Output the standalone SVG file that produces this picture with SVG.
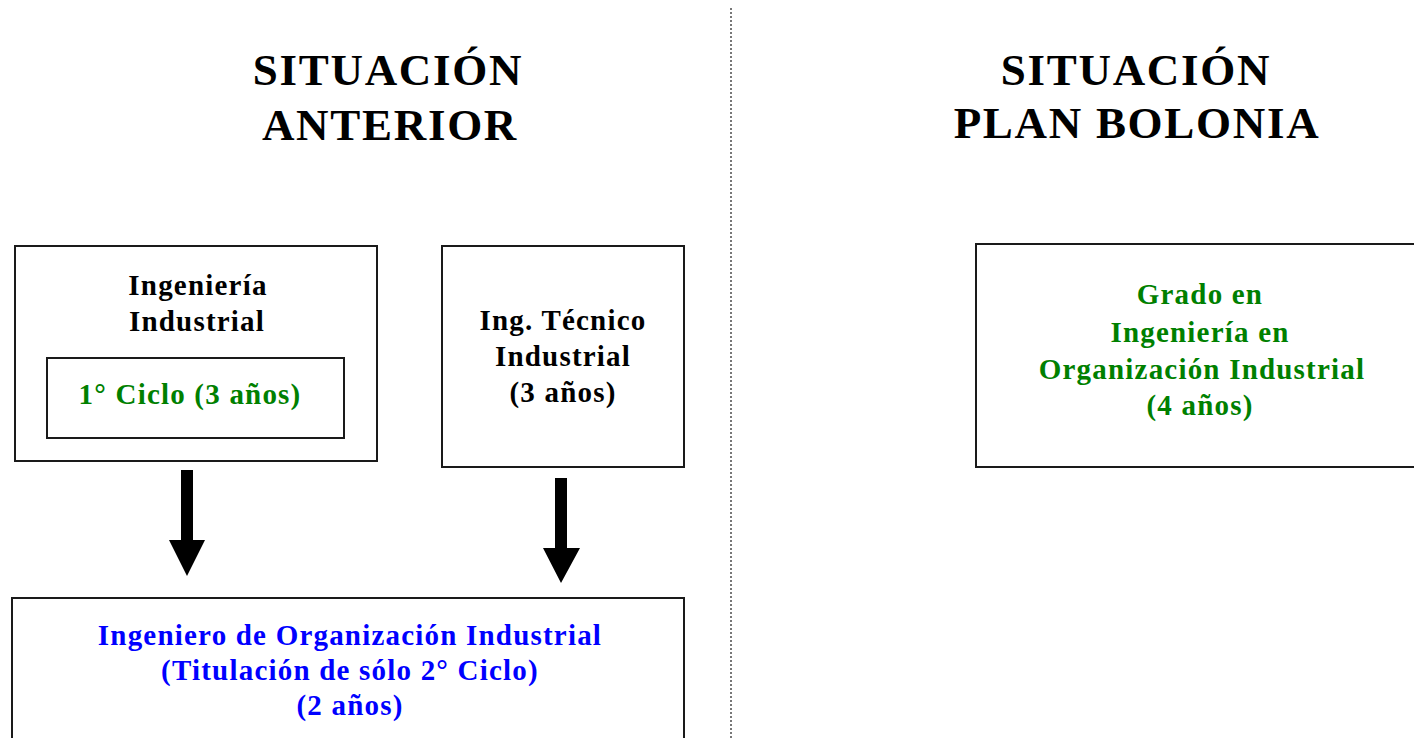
<svg xmlns="http://www.w3.org/2000/svg" width="1414" height="738" viewBox="0 0 1414 738">
<style>
.box{fill:#fff;stroke:#1a1a1a;stroke-width:2}
.t{font-family:"Liberation Serif","Times New Roman",serif;font-weight:bold;text-anchor:middle}
.title{font-size:45px;letter-spacing:1.7px;fill:#000}
.lbl{font-size:29px;letter-spacing:1.2px}
.k{fill:#000}.g{fill:#008000}.b{fill:#0000ff}
.arrow{fill:#000}
</style>
<rect width="1414" height="738" fill="#fff"/>
<g id="divider"><line x1="731" y1="8" x2="731" y2="738" stroke="#777" stroke-width="2" stroke-dasharray="2,2"/></g>
<g id="title-left">
<text class="t title" x="388" y="85">SITUACIÓN</text>
<text class="t title" x="390" y="140">ANTERIOR</text>
</g>
<g id="title-right">
<text class="t title" x="1136" y="85">SITUACIÓN</text>
<text class="t title" x="1137" y="138">PLAN BOLONIA</text>
</g>
<g id="ing-industrial">
<rect class="box" x="15" y="246" width="362" height="215"/>
<text class="t lbl k" x="198" y="295">Ingeniería</text>
<text class="t lbl k" x="197" y="331">Industrial</text>
</g>
<g id="primer-ciclo">
<rect class="box" x="47" y="358" width="297" height="80"/>
<text class="t lbl g" x="190" y="404">1° Ciclo (3 años)</text>
</g>
<g id="ing-tecnico">
<rect class="box" x="442" y="246" width="242" height="221"/>
<text class="t lbl k" x="563" y="330">Ing. Técnico</text>
<text class="t lbl k" x="563" y="366">Industrial</text>
<text class="t lbl k" x="563" y="402">(3 años)</text>
</g>
<g id="ing-organizacion">
<rect class="box" x="12" y="598" width="672" height="150"/>
<text class="t lbl b" x="350" y="645">Ingeniero de Organización Industrial</text>
<text class="t lbl b" x="350" y="680">(Titulación de sólo 2° Ciclo)</text>
<text class="t lbl b" x="350" y="715">(2 años)</text>
</g>
<g id="grado">
<rect class="box" x="976" y="244" width="450" height="223"/>
<text class="t lbl g" x="1200" y="304">Grado en</text>
<text class="t lbl g" x="1200" y="342">Ingeniería en</text>
<text class="t lbl g" x="1202" y="379">Organización Industrial</text>
<text class="t lbl g" x="1200" y="415">(4 años)</text>
</g>
<g id="connectors">
<path class="arrow" d="M181 470 H193 V540 H205 L187 576 L169 540 H181 Z"/>
<path class="arrow" d="M555 478 H567 V548 H580 L561 583 L543 548 H555 Z"/>
</g>
</svg>
